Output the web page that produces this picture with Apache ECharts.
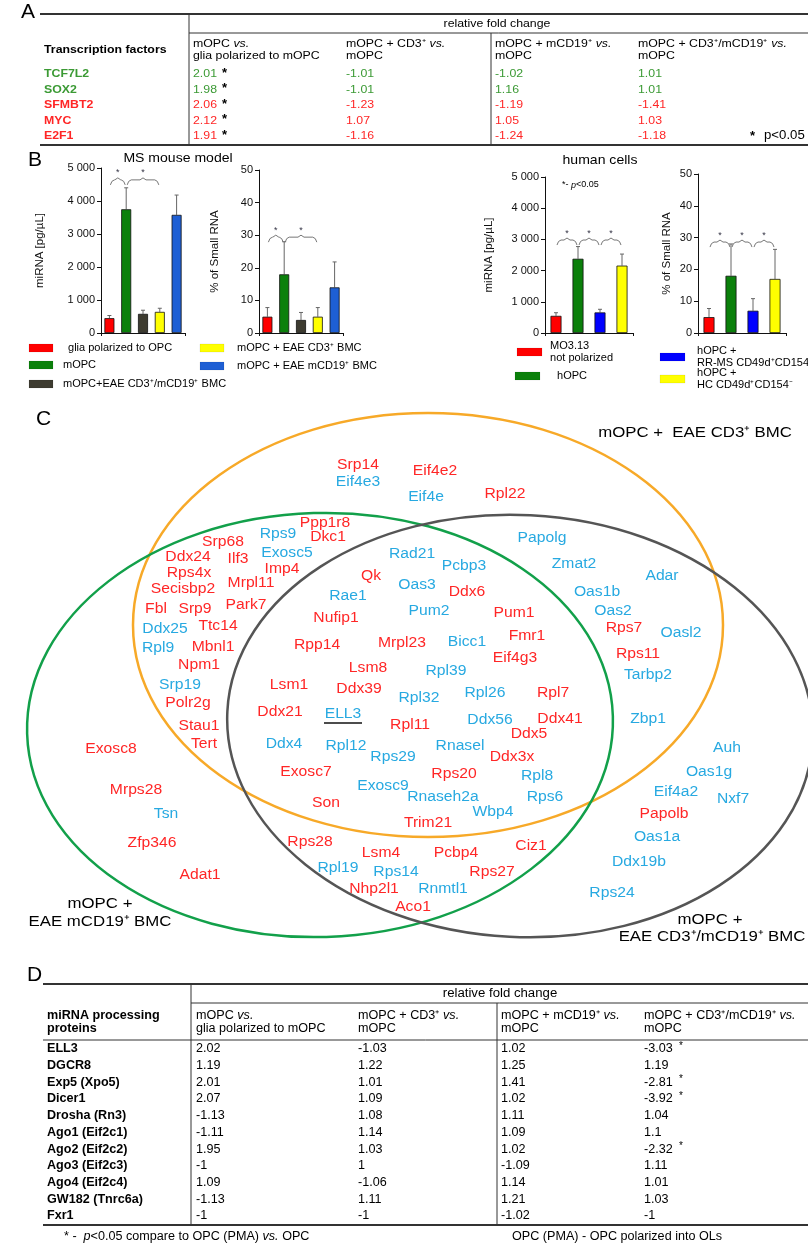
<!DOCTYPE html>
<html>
<head>
<meta charset="utf-8">
<title>miRNA processing figure</title>
<script src="https://cdn.jsdelivr.net/npm/echarts@6/dist/echarts.min.js"></script>
<style>
  html, body { margin: 0; padding: 0; background: #fff; }
  #fig { width: 808px; height: 1243px; }
</style>
</head>
<body>
<div id="fig"></div>
<script>
var FONT = '"Liberation Sans", Arial, Helvetica, sans-serif';
var RED = '#ff2626', BLUE = '#27a9e1', TF_GREEN = '#3b9a34';

// ---------- A: transcription factors ----------
var tfNames = ['TCF7L2', 'SOX2', 'SFMBT2', 'MYC', 'E2F1'];
var tfGroup = ['g', 'g', 'r', 'r', 'r'];
var tfMopcVsGlia = ['2.01', '1.98', '2.06', '2.12', '1.91'];
var tfCd3VsMopc = ['-1.01', '-1.01', '-1.23', '1.07', '-1.16'];
var tfCd19VsMopc = ['-1.02', '1.16', '-1.19', '1.05', '-1.24'];
var tfBothVsMopc = ['1.01', '1.01', '-1.41', '1.03', '-1.18'];
var tfSig = [1, 1, 1, 1, 1];
var compareHeads = [
  ['mOPC {i|vs.}', 'glia polarized to mOPC'],
  ['mOPC + CD3⁺ {i|vs.}', 'mOPC'],
  ['mOPC + mCD19⁺ {i|vs.}', 'mOPC'],
  ['mOPC + CD3⁺/mCD19⁺ {i|vs.}', 'mOPC']
];

// ---------- B: bar charts ----------
var mouseGroups = ['glia polarized to OPC', 'mOPC', 'mOPC+EAE CD3⁺/mCD19⁺ BMC', 'mOPC + EAE CD3⁺ BMC', 'mOPC + EAE mCD19⁺ BMC'];
var mouseMirna = [450, 3750, 580, 640, 3580];
var mouseMirnaTop = [530, 4400, 690, 750, 4180];
var mouseSmall = [5, 18, 4, 5, 14];
var mouseSmallTop = [7.8, 28, 6.3, 7.8, 21.8];
var mouseMirnaSig = [[0, 1, 4640], [1, 3, 4640]];
var mouseSmallSig = [[0, 1, 29.4], [1, 3, 29.4]];

var humanGroups = ['MO3.13\nnot polarized', 'hOPC', 'hOPC +\nRR-MS CD49d⁺CD154⁺', 'hOPC +\nHC CD49d⁺CD154⁻'];
var humanMirna = [550, 2380, 660, 2160];
var humanMirnaTop = [650, 2770, 760, 2530];
var humanSmall = [5, 18, 7, 17];
var humanSmallTop = [7.7, 28, 10.8, 26.3];
var humanMirnaSig = [[0, 1, 2980], [1, 2, 2980], [2, 3, 2980]];
var humanSmallSig = [[0, 1, 28.6], [1, 2, 28.6], [2, 3, 28.6]];

var mouseColors = ['#ff0000', '#0b800b', '#3d3b30', '#ffff00', '#1e5fd4'];
var humanColors = ['#ff0000', '#0b800b', '#0000ff', '#ffff00'];

// ---------- C: Venn diagram genes [name, colour group, x, y] ----------
var genes = [
  ['Srp14','r',358,465], ['Eif4e3','b',358,482], ['Eif4e2','r',435,471], ['Eif4e','b',426,497], ['Rpl22','r',505,494],
  ['Ppp1r8','r',325,523], ['Rps9','b',278,534], ['Dkc1','r',328,537], ['Srp68','r',223,542], ['Ddx24','r',188,557],
  ['Ilf3','r',238,559], ['Exosc5','b',287,553], ['Rps4x','r',189,573], ['Imp4','r',282,569], ['Mrpl11','r',251,583],
  ['Secisbp2','r',183,589], ['Fbl','r',156,609], ['Srp9','r',195,609], ['Park7','r',246,605], ['Ddx25','b',165,629],
  ['Ttc14','r',218,626], ['Rpl9','b',158,648], ['Mbnl1','r',213,647], ['Npm1','r',199,665], ['Srp19','b',180,685],
  ['Polr2g','r',188,703], ['Stau1','r',199,726], ['Tert','r',204,744],
  ['Rad21','b',412,554], ['Pcbp3','b',464,566], ['Qk','r',371,576], ['Oas3','b',417,585], ['Ddx6','r',467,592],
  ['Rae1','b',348,596], ['Pum2','b',429,611], ['Pum1','r',514,613], ['Nufip1','r',336,618], ['Fmr1','r',527,636],
  ['Rpp14','r',317,645], ['Mrpl23','r',402,643], ['Bicc1','b',467,642], ['Eif4g3','r',515,658], ['Lsm8','r',368,668],
  ['Rpl39','b',446,671], ['Lsm1','r',289,685], ['Ddx39','r',359,689], ['Rpl26','b',485,693], ['Rpl32','b',419,698],
  ['Rpl7','r',553,693], ['Ddx21','r',280,712], ['ELL3','b',343,714], ['Ddx56','b',490,720], ['Ddx41','r',560,719],
  ['Rpl11','r',410,725], ['Ddx5','r',529,734], ['Ddx4','b',284,744], ['Rpl12','b',346,746], ['Rnasel','b',460,746],
  ['Rps29','b',393,757], ['Ddx3x','r',512,757], ['Exosc7','r',306,772], ['Rps20','r',454,774], ['Rpl8','b',537,776],
  ['Exosc9','b',383,786], ['Rnaseh2a','b',443,797], ['Rps6','b',545,797], ['Son','r',326,803], ['Wbp4','b',493,812],
  ['Trim21','r',428,823], ['Rps28','r',310,842], ['Ciz1','r',531,846], ['Lsm4','r',381,853], ['Pcbp4','r',456,853],
  ['Rpl19','b',338,868], ['Rps14','b',396,872], ['Rps27','r',492,872], ['Nhp2l1','r',374,889], ['Rnmtl1','b',443,889],
  ['Aco1','r',413,907],
  ['Papolg','b',542,538], ['Zmat2','b',574,564], ['Adar','b',662,576], ['Oas1b','b',597,592], ['Oas2','b',613,611],
  ['Rps7','r',624,628], ['Oasl2','b',681,633], ['Rps11','r',638,654], ['Tarbp2','b',648,675], ['Zbp1','b',648,719],
  ['Auh','b',727,748], ['Oas1g','b',709,772], ['Eif4a2','b',676,792], ['Nxf7','b',733,799], ['Papolb','r',664,814],
  ['Oas1a','b',657,837], ['Ddx19b','b',639,862], ['Rps24','b',612,893],
  ['Exosc8','r',111,749], ['Mrps28','r',136,790], ['Tsn','b',166,814], ['Zfp346','r',152,843], ['Adat1','r',200,875]
];

// ---------- D: miRNA processing proteins ----------
var procNames = ['ELL3', 'DGCR8', 'Exp5 (Xpo5)', 'Dicer1', 'Drosha (Rn3)', 'Ago1 (Eif2c1)', 'Ago2 (Eif2c2)', 'Ago3 (Eif2c3)', 'Ago4 (Eif2c4)', 'GW182 (Tnrc6a)', 'Fxr1'];
var procMopcVsGlia = ['2.02', '1.19', '2.01', '2.07', '-1.13', '-1.11', '1.95', '-1', '1.09', '-1.13', '-1'];
var procCd3VsMopc = ['-1.03', '1.22', '1.01', '1.09', '1.08', '1.14', '1.03', '1', '-1.06', '1.11', '-1'];
var procCd19VsMopc = ['1.02', '1.25', '1.41', '1.02', '1.11', '1.09', '1.02', '-1.09', '1.14', '1.21', '-1.02'];
var procBothVsMopc = ['-3.03', '1.19', '-2.81', '-3.92', '1.04', '1.1', '-2.32', '1.11', '1.01', '1.03', '-1'];
var procSig = [1, 0, 1, 1, 0, 0, 1, 0, 0, 0, 0];

// ---------- helpers ----------
function T(x, y, text, o) {
  o = o || {};
  var size = o.size || 12;
  return {
    type: 'text', x: x, y: y, scaleX: o.sx || 1, z: 20,
    style: {
      text: text, fill: o.color || '#000',
      fontSize: size, fontFamily: FONT,
      fontWeight: o.bold ? 'bold' : 'normal',
      fontStyle: o.italic ? 'italic' : 'normal',
      align: o.align || 'left', verticalAlign: 'middle',
      lineHeight: o.lh || Math.round(size * 1.15),
      rich: {
        i: { fontSize: size, fontFamily: FONT, fontStyle: 'italic', fill: o.color || '#000' }
      }
    }
  };
}
function L(x1, y1, x2, y2, w, c) {
  return { type: 'line', z: 15, shape: { x1: x1, y1: y1, x2: x2, y2: y2 }, style: { stroke: c || '#333', lineWidth: w || 1 } };
}
function R(x, y, w, h, c) {
  return { type: 'rect', z: 15, shape: { x: x, y: y, width: w, height: h }, style: { fill: c, stroke: 'rgba(0,0,0,0.15)', lineWidth: 0.5 } };
}
function thousands(v) {
  return v >= 1000 ? Math.floor(v / 1000) + ' 000' : String(v);
}

var g = [];

// ----- Table A -----
g.push(T(21, 12, 'A', { size: 21 }));
g.push(L(40, 14, 808, 14, 2));
g.push(L(189, 14, 189, 145, 1));
g.push(L(491, 33, 491, 145, 1));
g.push(L(189, 33, 808, 33, 1));
g.push(L(40, 145, 808, 145, 2));
g.push(T(497, 24, 'relative fold change', { size: 11, align: 'center', sx: 1.12 }));
g.push(T(44, 50, 'Transcription factors', { size: 11, bold: true, sx: 1.12 }));
var tfColX = [193, 346, 495, 638];
compareHeads.forEach(function (h, i) {
  g.push(T(tfColX[i], 44, h[0], { size: 11, sx: 1.12 }));
  g.push(T(tfColX[i], 56, h[1], { size: 11, sx: 1.12 }));
});
var tfCols = [tfMopcVsGlia, tfCd3VsMopc, tfCd19VsMopc, tfBothVsMopc];
tfNames.forEach(function (n, r) {
  var y = 74 + r * 15.5;
  var col = tfGroup[r] === 'g' ? TF_GREEN : RED;
  g.push(T(44, y, n, { size: 11, bold: true, color: col, sx: 1.12 }));
  tfCols.forEach(function (c, k) {
    g.push(T(tfColX[k], y, c[r], { size: 11, color: col, sx: 1.12 }));
  });
  if (tfSig[r]) g.push(T(222, y - 1, '*', { size: 13, bold: true }));
});
g.push(T(750, 136, '*', { size: 13, bold: true }));
g.push(T(764, 136, 'p<0.05', { size: 12, sx: 1.1 }));

// ----- Panel B titles and legends -----
g.push(T(28, 160, 'B', { size: 21 }));
g.push(T(178, 158, 'MS mouse model', { size: 13, align: 'center', sx: 1.08 }));
g.push(T(600, 160, 'human cells', { size: 13, align: 'center', sx: 1.08 }));
g.push(T(562, 185, '*- {i|p}<0.05', { size: 9 }));

var mouseLegendSpots = [[29, 344, 68], [29, 361, 63], [29, 380, 63], [200, 344, 237], [200, 362, 237]];
mouseGroups.forEach(function (name, i) {
  var s = mouseLegendSpots[i];
  g.push(R(s[0], s[1], 24, 8, mouseColors[i]));
  g.push(T(s[2], s[1] + 4, name, { size: 10.5, sx: 1.05 }));
});
var humanLegendSpots = [[517, 348, 550], [515, 372, 557], [660, 353, 697], [660, 375, 697]];
humanGroups.forEach(function (name, i) {
  var s = humanLegendSpots[i];
  g.push(R(s[0], s[1], 25, 8, humanColors[i]));
  g.push(T(s[2], s[1] + 4, name, { size: 10.5, sx: 1.05, lh: 12.5 }));
});

// ----- Panel C: ellipses and set names -----
g.push(T(36, 419, 'C', { size: 21 }));
function ell(cx, cy, rx, ry, rot, color) {
  return { type: 'ellipse', x: cx, y: cy, rotation: rot, z: 5,
    shape: { cx: 0, cy: 0, rx: rx, ry: ry },
    style: { fill: 'none', stroke: color, lineWidth: 2.5 } };
}
g.push(ell(428, 625, 295, 212, 0, '#f7a928'));
g.push(ell(320, 725, 293, 212, 0.03, '#12a04a'));
g.push(ell(520, 726, 293, 211, -0.05, '#555555'));
g.push(T(695, 433, 'mOPC +  EAE CD3⁺ BMC', { size: 15, align: 'center', sx: 1.12 }));
g.push(T(100, 904, 'mOPC +', { size: 15, align: 'center', sx: 1.12 }));
g.push(T(100, 922, 'EAE mCD19⁺ BMC', { size: 15, align: 'center', sx: 1.12 }));
g.push(T(710, 920, 'mOPC +', { size: 15, align: 'center', sx: 1.12 }));
g.push(T(712, 937, 'EAE CD3⁺/mCD19⁺ BMC', { size: 15, align: 'center', sx: 1.12 }));
g.push(L(324, 723, 362, 723, 1.6, '#111'));

// ----- Table D -----
g.push(T(27, 975, 'D', { size: 21 }));
g.push(L(43, 984, 808, 984, 2));
g.push(L(191, 984, 191, 1225, 1));
g.push(L(497, 1003, 497, 1225, 1));
g.push(L(191, 1003, 808, 1003, 1));
g.push(L(43, 1040, 808, 1040, 1));
g.push(L(43, 1225, 808, 1225, 2));
g.push(T(500, 994, 'relative fold change', { size: 12, align: 'center', sx: 1.1 }));
g.push(T(47, 1016, 'miRNA processing', { size: 12, bold: true, sx: 1.05 }));
g.push(T(47, 1029, 'proteins', { size: 12, bold: true, sx: 1.05 }));
var procColX = [196, 358, 501, 644];
compareHeads.forEach(function (h, i) {
  g.push(T(procColX[i], 1016, h[0], { size: 12, sx: 1.05 }));
  g.push(T(procColX[i], 1029, h[1], { size: 12, sx: 1.05 }));
});
var procCols = [procMopcVsGlia, procCd3VsMopc, procCd19VsMopc, procBothVsMopc];
procNames.forEach(function (n, r) {
  var y = 1049 + r * 16.7;
  g.push(T(47, y, n, { size: 12, bold: true, sx: 1.05 }));
  procCols.forEach(function (c, k) {
    g.push(T(procColX[k], y, c[r], { size: 12, sx: 1.05 }));
  });
  if (procSig[r]) g.push(T(679, y - 3, '*', { size: 10 }));
});
g.push(T(64, 1237, '* -  {i|p}<0.05 compare to OPC (PMA) {i|vs.} OPC', { size: 12, sx: 1.05 }));
g.push(T(512, 1237, 'OPC (PMA) - OPC polarized into OLs', { size: 12, sx: 1.05 }));

// ---------- series builders ----------
function barSeries(idx, values, colors, bw) {
  return {
    type: 'bar', xAxisIndex: idx, yAxisIndex: idx, barWidth: bw, z: 3,
    data: values.map(function (v, i) {
      return { value: v, itemStyle: { color: colors[i], borderColor: '#111', borderWidth: 0.8 } };
    })
  };
}
function errSeries(idx, values, tops) {
  return {
    type: 'custom', xAxisIndex: idx, yAxisIndex: idx, z: 2,
    encode: { x: 0, y: 1 },
    data: values.map(function (v, i) { return [i, tops[i], v]; }),
    renderItem: function (params, api) {
      var p1 = api.coord([api.value(0), api.value(2)]);
      var p2 = api.coord([api.value(0), api.value(1)]);
      return { type: 'group', children: [
        { type: 'line', shape: { x1: p1[0], y1: p1[1], x2: p2[0], y2: p2[1] }, style: { stroke: '#666', lineWidth: 1 } },
        { type: 'line', shape: { x1: p2[0] - 2, y1: p2[1], x2: p2[0] + 2, y2: p2[1] }, style: { stroke: '#666', lineWidth: 1 } }
      ] };
    }
  };
}
function sigSeries(idx, pairs) {
  return {
    type: 'custom', xAxisIndex: idx, yAxisIndex: idx, z: 4,
    encode: { x: [0, 1], y: 2 },
    data: pairs,
    renderItem: function (params, api) {
      var a = api.coord([api.value(0), api.value(2)]);
      var b = api.coord([api.value(1), api.value(2)]);
      var y = a[1], x1 = a[0] + 1, x2 = b[0] - 1, xm = (x1 + x2) / 2;
      return { type: 'group', children: [
        { type: 'polyline', shape: { points: [[x1, y + 5], [x1 + 1.5, y + 1.5], [x1 + 4, y], [xm - 3, y], [xm, y - 2], [xm + 3, y], [x2 - 4, y], [x2 - 1.5, y + 1.5], [x2, y + 5]] },
          style: { stroke: '#777', lineWidth: 1, fill: null } },
        { type: 'text', x: xm, y: y - 7, style: { text: '*', fill: '#334', fontSize: 9, fontFamily: FONT, align: 'center', verticalAlign: 'middle' } }
      ] };
    }
  };
}
function catAxis(idx, data) {
  return {
    type: 'category', gridIndex: idx, data: data,
    axisLine: { lineStyle: { color: '#111', width: 1 } },
    axisTick: { show: true, length: 3, lineStyle: { color: '#111' } },
    axisLabel: { show: false }
  };
}
function valAxis(idx, max, interval, name, gap, fmt) {
  return {
    type: 'value', gridIndex: idx, min: 0, max: max, interval: interval,
    name: name, nameLocation: 'middle', nameGap: gap, nameRotate: 90,
    nameTextStyle: { fontSize: 11.5, fontFamily: FONT, color: '#111' },
    axisLine: { show: true, lineStyle: { color: '#111', width: 1 } },
    axisTick: { show: true, length: 4, lineStyle: { color: '#111' } },
    axisLabel: { fontSize: 11, fontFamily: FONT, color: '#111', margin: 6, formatter: fmt },
    splitLine: { show: false }
  };
}

var option = {
  backgroundColor: '#fff',
  animation: false,
  textStyle: { fontFamily: FONT },
  grid: [
    { left: 101, top: 168, width: 84, height: 165 },
    { left: 259, top: 170, width: 84, height: 163 },
    { left: 545, top: 177, width: 88, height: 156 },
    { left: 698, top: 174, width: 88, height: 159 },
    { left: 0, top: 0, width: 808, height: 1243 }
  ],
  xAxis: [
    catAxis(0, mouseGroups), catAxis(1, mouseGroups), catAxis(2, humanGroups), catAxis(3, humanGroups),
    { type: 'value', gridIndex: 4, min: 0, max: 808, show: false }
  ],
  yAxis: [
    valAxis(0, 5000, 1000, 'miRNA [pg/µL]', 55, thousands),
    valAxis(1, 50, 10, '% of Small RNA', 38),
    valAxis(2, 5000, 1000, 'miRNA [pg/µL]', 50, thousands),
    valAxis(3, 50, 10, '% of Small RNA', 25),
    { type: 'value', gridIndex: 4, min: 0, max: 1243, inverse: true, show: false }
  ],
  series: [
    errSeries(0, mouseMirna, mouseMirnaTop), barSeries(0, mouseMirna, mouseColors, 10), sigSeries(0, mouseMirnaSig),
    errSeries(1, mouseSmall, mouseSmallTop), barSeries(1, mouseSmall, mouseColors, 10), sigSeries(1, mouseSmallSig),
    errSeries(2, humanMirna, humanMirnaTop), barSeries(2, humanMirna, humanColors, 11), sigSeries(2, humanMirnaSig),
    errSeries(3, humanSmall, humanSmallTop), barSeries(3, humanSmall, humanColors, 11), sigSeries(3, humanSmallSig),
    {
      type: 'custom', xAxisIndex: 4, yAxisIndex: 4, z: 10, silent: true,
      encode: { x: 0, y: 1 },
      data: genes.map(function (d) { return [d[2], d[3]]; }),
      renderItem: function (params, api) {
        var d = genes[params.dataIndex];
        var p = api.coord([api.value(0), api.value(1)]);
        return { type: 'text', x: p[0], y: p[1], scaleX: 1.12,
          style: { text: d[0], fill: d[1] === 'r' ? RED : BLUE, fontSize: 14, fontFamily: FONT,
            align: 'center', verticalAlign: 'middle' } };
      }
    }
  ],
  graphic: { elements: g }
};

var chart = echarts.init(document.getElementById('fig'));
chart.setOption(option);
</script>
</body>
</html>
